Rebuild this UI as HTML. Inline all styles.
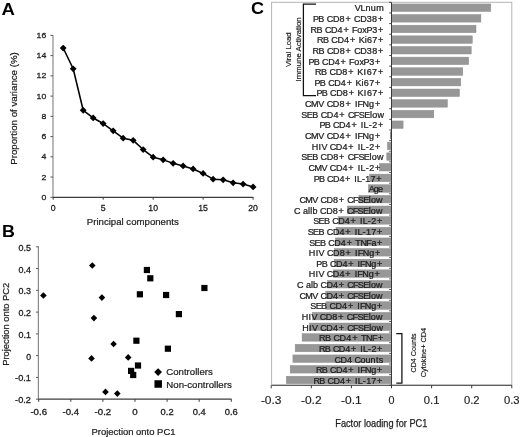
<!DOCTYPE html>
<html><head><meta charset="utf-8"><title>Figure</title>
<style>
html,body{margin:0;padding:0;background:#fff;}
body{width:520px;height:437px;overflow:hidden;}
svg{display:block;font-family:"Liberation Sans", sans-serif;will-change:transform;}
</style></head>
<body>
<svg width="520" height="437" viewBox="0 0 520 437" shape-rendering="auto">
<rect x="0" y="0" width="520" height="437" fill="#fff"/>
<text x="1.60" y="14.60" font-size="17.4" textLength="13.40" lengthAdjust="spacingAndGlyphs" font-weight="bold" fill="#000">A</text>
<text x="2.00" y="236.70" font-size="17.4" textLength="12.90" lengthAdjust="spacingAndGlyphs" font-weight="bold" fill="#000">B</text>
<text x="250.90" y="14.00" font-size="17.4" textLength="13.00" lengthAdjust="spacingAndGlyphs" font-weight="bold" fill="#000">C</text>
<line x1="53.00" y1="34.88" x2="53.00" y2="197.30" stroke="#8a8a8a" stroke-width="1.2"/>
<line x1="50.40" y1="197.30" x2="53.00" y2="197.30" stroke="#5a5a5a" stroke-width="1"/>
<text x="46.30" y="199.80" font-size="8.0" text-anchor="end" textLength="4.83" lengthAdjust="spacingAndGlyphs" fill="#1e1e1e" stroke="#1e1e1e" stroke-width="0.28">0</text>
<line x1="50.40" y1="177.06" x2="53.00" y2="177.06" stroke="#5a5a5a" stroke-width="1"/>
<text x="46.30" y="179.56" font-size="8.0" text-anchor="end" textLength="4.83" lengthAdjust="spacingAndGlyphs" fill="#1e1e1e" stroke="#1e1e1e" stroke-width="0.28">2</text>
<line x1="50.40" y1="156.82" x2="53.00" y2="156.82" stroke="#5a5a5a" stroke-width="1"/>
<text x="46.30" y="159.32" font-size="8.0" text-anchor="end" textLength="4.83" lengthAdjust="spacingAndGlyphs" fill="#1e1e1e" stroke="#1e1e1e" stroke-width="0.28">4</text>
<line x1="50.40" y1="136.58" x2="53.00" y2="136.58" stroke="#5a5a5a" stroke-width="1"/>
<text x="46.30" y="139.08" font-size="8.0" text-anchor="end" textLength="4.83" lengthAdjust="spacingAndGlyphs" fill="#1e1e1e" stroke="#1e1e1e" stroke-width="0.28">6</text>
<line x1="50.40" y1="116.34" x2="53.00" y2="116.34" stroke="#5a5a5a" stroke-width="1"/>
<text x="46.30" y="118.84" font-size="8.0" text-anchor="end" textLength="4.83" lengthAdjust="spacingAndGlyphs" fill="#1e1e1e" stroke="#1e1e1e" stroke-width="0.28">8</text>
<line x1="50.40" y1="96.10" x2="53.00" y2="96.10" stroke="#5a5a5a" stroke-width="1"/>
<text x="46.30" y="98.60" font-size="8.0" text-anchor="end" textLength="9.67" lengthAdjust="spacingAndGlyphs" fill="#1e1e1e" stroke="#1e1e1e" stroke-width="0.28">10</text>
<line x1="50.40" y1="75.86" x2="53.00" y2="75.86" stroke="#5a5a5a" stroke-width="1"/>
<text x="46.30" y="78.36" font-size="8.0" text-anchor="end" textLength="9.67" lengthAdjust="spacingAndGlyphs" fill="#1e1e1e" stroke="#1e1e1e" stroke-width="0.28">12</text>
<line x1="50.40" y1="55.62" x2="53.00" y2="55.62" stroke="#5a5a5a" stroke-width="1"/>
<text x="46.30" y="58.12" font-size="8.0" text-anchor="end" textLength="9.67" lengthAdjust="spacingAndGlyphs" fill="#1e1e1e" stroke="#1e1e1e" stroke-width="0.28">14</text>
<line x1="50.40" y1="35.38" x2="53.00" y2="35.38" stroke="#5a5a5a" stroke-width="1"/>
<text x="46.30" y="37.88" font-size="8.0" text-anchor="end" textLength="9.67" lengthAdjust="spacingAndGlyphs" fill="#1e1e1e" stroke="#1e1e1e" stroke-width="0.28">16</text>
<line x1="53.00" y1="197.30" x2="253.40" y2="197.30" stroke="#3c3c3c" stroke-width="1.15"/>
<line x1="53.20" y1="197.30" x2="53.20" y2="199.70" stroke="#3c3c3c" stroke-width="1"/>
<text x="53.20" y="211.10" font-size="8.3" text-anchor="middle" textLength="4.83" lengthAdjust="spacingAndGlyphs" fill="#1e1e1e" stroke="#1e1e1e" stroke-width="0.28">0</text>
<line x1="103.17" y1="197.30" x2="103.17" y2="199.70" stroke="#3c3c3c" stroke-width="1"/>
<text x="103.17" y="211.10" font-size="8.3" text-anchor="middle" textLength="4.83" lengthAdjust="spacingAndGlyphs" fill="#1e1e1e" stroke="#1e1e1e" stroke-width="0.28">5</text>
<line x1="153.15" y1="197.30" x2="153.15" y2="199.70" stroke="#3c3c3c" stroke-width="1"/>
<text x="153.15" y="211.10" font-size="8.3" text-anchor="middle" textLength="9.67" lengthAdjust="spacingAndGlyphs" fill="#1e1e1e" stroke="#1e1e1e" stroke-width="0.28">10</text>
<line x1="203.12" y1="197.30" x2="203.12" y2="199.70" stroke="#3c3c3c" stroke-width="1"/>
<text x="203.12" y="211.10" font-size="8.3" text-anchor="middle" textLength="9.67" lengthAdjust="spacingAndGlyphs" fill="#1e1e1e" stroke="#1e1e1e" stroke-width="0.28">15</text>
<line x1="253.10" y1="197.30" x2="253.10" y2="199.70" stroke="#3c3c3c" stroke-width="1"/>
<text x="253.10" y="211.10" font-size="8.3" text-anchor="middle" textLength="9.67" lengthAdjust="spacingAndGlyphs" fill="#1e1e1e" stroke="#1e1e1e" stroke-width="0.28">20</text>
<polyline points="63.20,48.03 73.19,68.78 83.19,110.27 93.18,117.96 103.17,123.53 113.17,130.81 123.16,138.20 133.16,140.32 143.16,149.53 153.15,157.22 163.14,159.86 173.14,163.30 183.13,165.93 193.13,168.96 203.12,173.42 213.12,179.19 223.12,179.79 233.11,182.83 243.10,184.04 253.10,186.88" fill="none" stroke="#000" stroke-width="1.55" stroke-linejoin="round"/>
<path d="M59.80 48.03L63.20 44.63L66.59 48.03L63.20 51.43Z" fill="#000"/>
<path d="M69.79 68.78L73.19 65.38L76.59 68.78L73.19 72.18Z" fill="#000"/>
<path d="M79.78 110.27L83.19 106.87L86.59 110.27L83.19 113.67Z" fill="#000"/>
<path d="M89.78 117.96L93.18 114.56L96.58 117.96L93.18 121.36Z" fill="#000"/>
<path d="M99.77 123.53L103.17 120.13L106.58 123.53L103.17 126.93Z" fill="#000"/>
<path d="M109.77 130.81L113.17 127.41L116.57 130.81L113.17 134.21Z" fill="#000"/>
<path d="M119.76 138.20L123.16 134.80L126.56 138.20L123.16 141.60Z" fill="#000"/>
<path d="M129.76 140.32L133.16 136.92L136.56 140.32L133.16 143.72Z" fill="#000"/>
<path d="M139.75 149.53L143.16 146.13L146.56 149.53L143.16 152.93Z" fill="#000"/>
<path d="M149.75 157.22L153.15 153.82L156.55 157.22L153.15 160.62Z" fill="#000"/>
<path d="M159.74 159.86L163.14 156.46L166.54 159.86L163.14 163.26Z" fill="#000"/>
<path d="M169.74 163.30L173.14 159.90L176.54 163.30L173.14 166.70Z" fill="#000"/>
<path d="M179.73 165.93L183.13 162.53L186.53 165.93L183.13 169.33Z" fill="#000"/>
<path d="M189.73 168.96L193.13 165.56L196.53 168.96L193.13 172.36Z" fill="#000"/>
<path d="M199.72 173.42L203.12 170.02L206.53 173.42L203.12 176.82Z" fill="#000"/>
<path d="M209.72 179.19L213.12 175.79L216.52 179.19L213.12 182.59Z" fill="#000"/>
<path d="M219.72 179.79L223.12 176.39L226.52 179.79L223.12 183.19Z" fill="#000"/>
<path d="M229.71 182.83L233.11 179.43L236.51 182.83L233.11 186.23Z" fill="#000"/>
<path d="M239.70 184.04L243.10 180.64L246.50 184.04L243.10 187.44Z" fill="#000"/>
<path d="M249.70 186.88L253.10 183.48L256.50 186.88L253.10 190.28Z" fill="#000"/>
<text x="132.80" y="225.20" font-size="9.5" text-anchor="middle" textLength="92.00" lengthAdjust="spacingAndGlyphs" fill="#1e1e1e" stroke="#1e1e1e" stroke-width="0.22">Principal components</text>
<text x="16.80" y="108.50" font-size="9.5" text-anchor="middle" textLength="112.50" lengthAdjust="spacingAndGlyphs" transform="rotate(-90 16.80 108.50)" fill="#1e1e1e" stroke="#1e1e1e" stroke-width="0.22">Proportion of variance (%)</text>
<line x1="38.40" y1="246.30" x2="38.40" y2="399.19" stroke="#8a8a8a" stroke-width="1.2"/>
<line x1="36.00" y1="399.19" x2="38.40" y2="399.19" stroke="#5a5a5a" stroke-width="1"/>
<text x="31.00" y="403.19" font-size="8.3" text-anchor="end" textLength="15.88" lengthAdjust="spacingAndGlyphs" fill="#1e1e1e" stroke="#1e1e1e" stroke-width="0.28">-0.2</text>
<line x1="36.00" y1="377.42" x2="38.40" y2="377.42" stroke="#5a5a5a" stroke-width="1"/>
<text x="31.00" y="381.42" font-size="8.3" text-anchor="end" textLength="15.88" lengthAdjust="spacingAndGlyphs" fill="#1e1e1e" stroke="#1e1e1e" stroke-width="0.28">-0.1</text>
<line x1="36.00" y1="355.65" x2="38.40" y2="355.65" stroke="#5a5a5a" stroke-width="1"/>
<text x="31.00" y="359.65" font-size="8.3" text-anchor="end" textLength="4.83" lengthAdjust="spacingAndGlyphs" fill="#1e1e1e" stroke="#1e1e1e" stroke-width="0.28">0</text>
<line x1="36.00" y1="333.88" x2="38.40" y2="333.88" stroke="#5a5a5a" stroke-width="1"/>
<text x="31.00" y="337.88" font-size="8.3" text-anchor="end" textLength="12.43" lengthAdjust="spacingAndGlyphs" fill="#1e1e1e" stroke="#1e1e1e" stroke-width="0.28">0.1</text>
<line x1="36.00" y1="312.11" x2="38.40" y2="312.11" stroke="#5a5a5a" stroke-width="1"/>
<text x="31.00" y="316.11" font-size="8.3" text-anchor="end" textLength="12.43" lengthAdjust="spacingAndGlyphs" fill="#1e1e1e" stroke="#1e1e1e" stroke-width="0.28">0.2</text>
<line x1="36.00" y1="290.34" x2="38.40" y2="290.34" stroke="#5a5a5a" stroke-width="1"/>
<text x="31.00" y="294.34" font-size="8.3" text-anchor="end" textLength="12.43" lengthAdjust="spacingAndGlyphs" fill="#1e1e1e" stroke="#1e1e1e" stroke-width="0.28">0.3</text>
<line x1="36.00" y1="268.57" x2="38.40" y2="268.57" stroke="#5a5a5a" stroke-width="1"/>
<text x="31.00" y="272.57" font-size="8.3" text-anchor="end" textLength="12.43" lengthAdjust="spacingAndGlyphs" fill="#1e1e1e" stroke="#1e1e1e" stroke-width="0.28">0.4</text>
<line x1="36.00" y1="246.80" x2="38.40" y2="246.80" stroke="#5a5a5a" stroke-width="1"/>
<text x="31.00" y="250.80" font-size="8.3" text-anchor="end" textLength="12.43" lengthAdjust="spacingAndGlyphs" fill="#1e1e1e" stroke="#1e1e1e" stroke-width="0.28">0.5</text>
<line x1="38.40" y1="399.19" x2="231.60" y2="399.19" stroke="#3c3c3c" stroke-width="1.2"/>
<line x1="38.70" y1="399.19" x2="38.70" y2="401.79" stroke="#3c3c3c" stroke-width="1"/>
<text x="38.70" y="415.40" font-size="8.3" text-anchor="middle" textLength="16.60" lengthAdjust="spacingAndGlyphs" fill="#1e1e1e" stroke="#1e1e1e" stroke-width="0.28">-0.6</text>
<line x1="70.80" y1="399.19" x2="70.80" y2="401.79" stroke="#3c3c3c" stroke-width="1"/>
<text x="70.80" y="415.40" font-size="8.3" text-anchor="middle" textLength="16.60" lengthAdjust="spacingAndGlyphs" fill="#1e1e1e" stroke="#1e1e1e" stroke-width="0.28">-0.4</text>
<line x1="102.90" y1="399.19" x2="102.90" y2="401.79" stroke="#3c3c3c" stroke-width="1"/>
<text x="102.90" y="415.40" font-size="8.3" text-anchor="middle" textLength="16.60" lengthAdjust="spacingAndGlyphs" fill="#1e1e1e" stroke="#1e1e1e" stroke-width="0.28">-0.2</text>
<line x1="135.00" y1="399.19" x2="135.00" y2="401.79" stroke="#3c3c3c" stroke-width="1"/>
<text x="135.00" y="415.40" font-size="8.3" text-anchor="middle" textLength="5.40" lengthAdjust="spacingAndGlyphs" fill="#1e1e1e" stroke="#1e1e1e" stroke-width="0.28">0</text>
<line x1="167.10" y1="399.19" x2="167.10" y2="401.79" stroke="#3c3c3c" stroke-width="1"/>
<text x="167.10" y="415.40" font-size="8.3" text-anchor="middle" textLength="13.00" lengthAdjust="spacingAndGlyphs" fill="#1e1e1e" stroke="#1e1e1e" stroke-width="0.28">0.2</text>
<line x1="199.20" y1="399.19" x2="199.20" y2="401.79" stroke="#3c3c3c" stroke-width="1"/>
<text x="199.20" y="415.40" font-size="8.3" text-anchor="middle" textLength="13.00" lengthAdjust="spacingAndGlyphs" fill="#1e1e1e" stroke="#1e1e1e" stroke-width="0.28">0.4</text>
<line x1="231.30" y1="399.19" x2="231.30" y2="401.79" stroke="#3c3c3c" stroke-width="1"/>
<text x="231.30" y="415.40" font-size="8.3" text-anchor="middle" textLength="13.00" lengthAdjust="spacingAndGlyphs" fill="#1e1e1e" stroke="#1e1e1e" stroke-width="0.28">0.6</text>
<path d="M40.10 295.50L43.40 292.20L46.70 295.50L43.40 298.80Z" fill="#000"/>
<path d="M89.00 265.50L92.30 262.20L95.60 265.50L92.30 268.80Z" fill="#000"/>
<path d="M98.60 297.60L101.90 294.30L105.20 297.60L101.90 300.90Z" fill="#000"/>
<path d="M90.60 318.10L93.90 314.80L97.20 318.10L93.90 321.40Z" fill="#000"/>
<path d="M110.30 344.00L113.60 340.70L116.90 344.00L113.60 347.30Z" fill="#000"/>
<path d="M88.20 358.40L91.50 355.10L94.80 358.40L91.50 361.70Z" fill="#000"/>
<path d="M124.90 357.40L128.20 354.10L131.50 357.40L128.20 360.70Z" fill="#000"/>
<path d="M102.20 391.90L105.50 388.60L108.80 391.90L105.50 395.20Z" fill="#000"/>
<path d="M114.00 393.60L117.30 390.30L120.60 393.60L117.30 396.90Z" fill="#000"/>
<rect x="143.80" y="266.90" width="6.20" height="6.20" fill="#000"/>
<rect x="147.20" y="275.20" width="6.20" height="6.20" fill="#000"/>
<rect x="136.80" y="291.20" width="6.20" height="6.20" fill="#000"/>
<rect x="163.00" y="291.90" width="6.20" height="6.20" fill="#000"/>
<rect x="201.30" y="284.90" width="6.20" height="6.20" fill="#000"/>
<rect x="175.80" y="311.00" width="6.20" height="6.20" fill="#000"/>
<rect x="133.30" y="337.60" width="6.20" height="6.20" fill="#000"/>
<rect x="164.80" y="345.60" width="6.20" height="6.20" fill="#000"/>
<rect x="134.90" y="362.40" width="6.20" height="6.20" fill="#000"/>
<rect x="128.00" y="367.80" width="6.20" height="6.20" fill="#000"/>
<rect x="130.10" y="371.90" width="6.20" height="6.20" fill="#000"/>
<path d="M154.20 372.10L158.10 368.20L162.00 372.10L158.10 376.00Z" fill="#000"/>
<rect x="154.45" y="380.25" width="7.50" height="7.50" fill="#000"/>
<text x="166.30" y="375.30" font-size="9.4" textLength="46.50" lengthAdjust="spacingAndGlyphs" fill="#1e1e1e" stroke="#1e1e1e" stroke-width="0.22">Controllers</text>
<text x="166.30" y="387.70" font-size="9.4" textLength="65.50" lengthAdjust="spacingAndGlyphs" fill="#1e1e1e" stroke="#1e1e1e" stroke-width="0.22">Non-controllers</text>
<text x="133.50" y="434.80" font-size="9.2" text-anchor="middle" textLength="84.00" lengthAdjust="spacingAndGlyphs" fill="#1e1e1e" stroke="#1e1e1e" stroke-width="0.22">Projection onto PC1</text>
<text x="8.60" y="324.30" font-size="9.2" text-anchor="middle" textLength="83.00" lengthAdjust="spacingAndGlyphs" transform="rotate(-90 8.60 324.30)" fill="#1e1e1e" stroke="#1e1e1e" stroke-width="0.22">Projection onto PC2</text>
<rect x="271.60" y="2.30" width="240.20" height="383.00" fill="none" stroke="#b4b4b4" stroke-width="1.0"/>
<rect x="391.50" y="3.95" width="99.30" height="7.50" fill="#979797" stroke="#8e8e8e" stroke-width="0.5"/>
<rect x="391.50" y="14.59" width="89.40" height="7.50" fill="#979797" stroke="#8e8e8e" stroke-width="0.5"/>
<rect x="391.50" y="25.22" width="84.50" height="7.50" fill="#979797" stroke="#8e8e8e" stroke-width="0.5"/>
<rect x="391.50" y="35.86" width="80.80" height="7.50" fill="#979797" stroke="#8e8e8e" stroke-width="0.5"/>
<rect x="391.50" y="46.49" width="79.70" height="7.50" fill="#979797" stroke="#8e8e8e" stroke-width="0.5"/>
<rect x="391.50" y="57.13" width="77.20" height="7.50" fill="#979797" stroke="#8e8e8e" stroke-width="0.5"/>
<rect x="391.50" y="67.77" width="71.30" height="7.50" fill="#979797" stroke="#8e8e8e" stroke-width="0.5"/>
<rect x="391.50" y="78.40" width="69.30" height="7.50" fill="#979797" stroke="#8e8e8e" stroke-width="0.5"/>
<rect x="391.50" y="89.04" width="68.00" height="7.50" fill="#979797" stroke="#8e8e8e" stroke-width="0.5"/>
<rect x="391.50" y="99.67" width="55.90" height="7.50" fill="#979797" stroke="#8e8e8e" stroke-width="0.5"/>
<rect x="391.50" y="110.31" width="42.30" height="7.50" fill="#979797" stroke="#8e8e8e" stroke-width="0.5"/>
<rect x="391.50" y="120.95" width="11.60" height="7.50" fill="#979797" stroke="#8e8e8e" stroke-width="0.5"/>
<rect x="391.00" y="131.58" width="0.50" height="7.50" fill="#979797" stroke="#8e8e8e" stroke-width="0.5"/>
<rect x="387.40" y="142.22" width="4.10" height="7.50" fill="#979797" stroke="#8e8e8e" stroke-width="0.5"/>
<rect x="386.80" y="152.85" width="4.70" height="7.50" fill="#979797" stroke="#8e8e8e" stroke-width="0.5"/>
<rect x="379.50" y="163.49" width="12.00" height="7.50" fill="#979797" stroke="#8e8e8e" stroke-width="0.5"/>
<rect x="369.50" y="174.13" width="22.00" height="7.50" fill="#979797" stroke="#8e8e8e" stroke-width="0.5"/>
<rect x="368.30" y="184.76" width="23.20" height="7.50" fill="#979797" stroke="#8e8e8e" stroke-width="0.5"/>
<rect x="358.90" y="195.40" width="32.60" height="7.50" fill="#979797" stroke="#8e8e8e" stroke-width="0.5"/>
<rect x="347.20" y="206.03" width="44.30" height="7.50" fill="#979797" stroke="#8e8e8e" stroke-width="0.5"/>
<rect x="338.40" y="216.67" width="53.10" height="7.50" fill="#979797" stroke="#8e8e8e" stroke-width="0.5"/>
<rect x="336.00" y="227.31" width="55.50" height="7.50" fill="#979797" stroke="#8e8e8e" stroke-width="0.5"/>
<rect x="335.40" y="237.94" width="56.10" height="7.50" fill="#979797" stroke="#8e8e8e" stroke-width="0.5"/>
<rect x="334.50" y="248.58" width="57.00" height="7.50" fill="#979797" stroke="#8e8e8e" stroke-width="0.5"/>
<rect x="334.20" y="259.21" width="57.30" height="7.50" fill="#979797" stroke="#8e8e8e" stroke-width="0.5"/>
<rect x="333.40" y="269.85" width="58.10" height="7.50" fill="#979797" stroke="#8e8e8e" stroke-width="0.5"/>
<rect x="327.60" y="280.49" width="63.90" height="7.50" fill="#979797" stroke="#8e8e8e" stroke-width="0.5"/>
<rect x="325.80" y="291.12" width="65.70" height="7.50" fill="#979797" stroke="#8e8e8e" stroke-width="0.5"/>
<rect x="325.90" y="301.76" width="65.60" height="7.50" fill="#979797" stroke="#8e8e8e" stroke-width="0.5"/>
<rect x="312.40" y="312.39" width="79.10" height="7.50" fill="#979797" stroke="#8e8e8e" stroke-width="0.5"/>
<rect x="309.60" y="323.03" width="81.90" height="7.50" fill="#979797" stroke="#8e8e8e" stroke-width="0.5"/>
<rect x="302.10" y="333.67" width="89.40" height="7.50" fill="#979797" stroke="#8e8e8e" stroke-width="0.5"/>
<rect x="295.20" y="344.30" width="96.30" height="7.50" fill="#979797" stroke="#8e8e8e" stroke-width="0.5"/>
<rect x="292.90" y="354.94" width="98.60" height="7.50" fill="#979797" stroke="#8e8e8e" stroke-width="0.5"/>
<rect x="290.20" y="365.57" width="101.30" height="7.50" fill="#979797" stroke="#8e8e8e" stroke-width="0.5"/>
<rect x="286.30" y="376.21" width="105.20" height="7.50" fill="#979797" stroke="#8e8e8e" stroke-width="0.5"/>
<rect x="390.3" y="131.58" width="1.2" height="7.50" fill="#666"/>
<line x1="391.50" y1="2.30" x2="391.50" y2="385.30" stroke="#3a3a3a" stroke-width="1.0"/>
<line x1="389.20" y1="2.30" x2="391.50" y2="2.30" stroke="#3a3a3a" stroke-width="0.9"/>
<line x1="389.20" y1="12.94" x2="391.50" y2="12.94" stroke="#3a3a3a" stroke-width="0.9"/>
<line x1="389.20" y1="23.58" x2="391.50" y2="23.58" stroke="#3a3a3a" stroke-width="0.9"/>
<line x1="389.20" y1="34.22" x2="391.50" y2="34.22" stroke="#3a3a3a" stroke-width="0.9"/>
<line x1="389.20" y1="44.86" x2="391.50" y2="44.86" stroke="#3a3a3a" stroke-width="0.9"/>
<line x1="389.20" y1="55.49" x2="391.50" y2="55.49" stroke="#3a3a3a" stroke-width="0.9"/>
<line x1="389.20" y1="66.13" x2="391.50" y2="66.13" stroke="#3a3a3a" stroke-width="0.9"/>
<line x1="389.20" y1="76.77" x2="391.50" y2="76.77" stroke="#3a3a3a" stroke-width="0.9"/>
<line x1="389.20" y1="87.41" x2="391.50" y2="87.41" stroke="#3a3a3a" stroke-width="0.9"/>
<line x1="389.20" y1="98.05" x2="391.50" y2="98.05" stroke="#3a3a3a" stroke-width="0.9"/>
<line x1="389.20" y1="108.69" x2="391.50" y2="108.69" stroke="#3a3a3a" stroke-width="0.9"/>
<line x1="389.20" y1="119.33" x2="391.50" y2="119.33" stroke="#3a3a3a" stroke-width="0.9"/>
<line x1="389.20" y1="129.97" x2="391.50" y2="129.97" stroke="#3a3a3a" stroke-width="0.9"/>
<line x1="389.20" y1="140.61" x2="391.50" y2="140.61" stroke="#3a3a3a" stroke-width="0.9"/>
<line x1="389.20" y1="151.24" x2="391.50" y2="151.24" stroke="#3a3a3a" stroke-width="0.9"/>
<line x1="389.20" y1="161.88" x2="391.50" y2="161.88" stroke="#3a3a3a" stroke-width="0.9"/>
<line x1="389.20" y1="172.52" x2="391.50" y2="172.52" stroke="#3a3a3a" stroke-width="0.9"/>
<line x1="389.20" y1="183.16" x2="391.50" y2="183.16" stroke="#3a3a3a" stroke-width="0.9"/>
<line x1="389.20" y1="193.80" x2="391.50" y2="193.80" stroke="#3a3a3a" stroke-width="0.9"/>
<line x1="389.20" y1="204.44" x2="391.50" y2="204.44" stroke="#3a3a3a" stroke-width="0.9"/>
<line x1="389.20" y1="215.08" x2="391.50" y2="215.08" stroke="#3a3a3a" stroke-width="0.9"/>
<line x1="389.20" y1="225.72" x2="391.50" y2="225.72" stroke="#3a3a3a" stroke-width="0.9"/>
<line x1="389.20" y1="236.36" x2="391.50" y2="236.36" stroke="#3a3a3a" stroke-width="0.9"/>
<line x1="389.20" y1="246.99" x2="391.50" y2="246.99" stroke="#3a3a3a" stroke-width="0.9"/>
<line x1="389.20" y1="257.63" x2="391.50" y2="257.63" stroke="#3a3a3a" stroke-width="0.9"/>
<line x1="389.20" y1="268.27" x2="391.50" y2="268.27" stroke="#3a3a3a" stroke-width="0.9"/>
<line x1="389.20" y1="278.91" x2="391.50" y2="278.91" stroke="#3a3a3a" stroke-width="0.9"/>
<line x1="389.20" y1="289.55" x2="391.50" y2="289.55" stroke="#3a3a3a" stroke-width="0.9"/>
<line x1="389.20" y1="300.19" x2="391.50" y2="300.19" stroke="#3a3a3a" stroke-width="0.9"/>
<line x1="389.20" y1="310.83" x2="391.50" y2="310.83" stroke="#3a3a3a" stroke-width="0.9"/>
<line x1="389.20" y1="321.47" x2="391.50" y2="321.47" stroke="#3a3a3a" stroke-width="0.9"/>
<line x1="389.20" y1="332.11" x2="391.50" y2="332.11" stroke="#3a3a3a" stroke-width="0.9"/>
<line x1="389.20" y1="342.74" x2="391.50" y2="342.74" stroke="#3a3a3a" stroke-width="0.9"/>
<line x1="389.20" y1="353.38" x2="391.50" y2="353.38" stroke="#3a3a3a" stroke-width="0.9"/>
<line x1="389.20" y1="364.02" x2="391.50" y2="364.02" stroke="#3a3a3a" stroke-width="0.9"/>
<line x1="389.20" y1="374.66" x2="391.50" y2="374.66" stroke="#3a3a3a" stroke-width="0.9"/>
<line x1="389.20" y1="385.30" x2="391.50" y2="385.30" stroke="#3a3a3a" stroke-width="0.9"/>
<text x="322.52 327.70 332.24 337.06 342.05" y="11.35" font-size="8.2" transform="scale(1.1 1)" fill="#1e1e1e" stroke="#1e1e1e" stroke-width="0.24">VLnum</text>
<text x="284.47 289.36 294.89 297.05 302.62 308.63 314.03 319.71 321.87 327.44 333.46 338.28 343.67" y="21.99" font-size="8.2" transform="scale(1.1 1)" fill="#1e1e1e" stroke="#1e1e1e" stroke-width="0.24">PB CD8+ CD38+</text>
<text x="282.31 287.73 293.23 295.36 300.89 306.86 312.22 317.87 320.00 324.67 329.41 333.22 338.34 343.69" y="32.64" font-size="8.2" transform="scale(1.1 1)" fill="#1e1e1e" stroke="#1e1e1e" stroke-width="0.24">RB CD4+ FoxP3+</text>
<text x="288.22 293.63 299.12 301.25 306.77 312.73 318.08 323.73 326.06 331.52 333.57 338.35 343.69" y="43.28" font-size="8.2" transform="scale(1.1 1)" fill="#1e1e1e" stroke="#1e1e1e" stroke-width="0.24">RB CD4+ Ki67+</text>
<text x="284.14 289.58 295.09 297.23 302.78 308.77 314.15 319.82 321.96 327.51 333.50 338.31 343.68" y="53.93" font-size="8.2" transform="scale(1.1 1)" fill="#1e1e1e" stroke="#1e1e1e" stroke-width="0.24">RB CD8+ CD38+</text>
<text x="280.36 285.20 290.69 292.80 298.31 304.27 309.60 315.25 317.36 322.01 326.74 330.53 335.64 340.97" y="64.57" font-size="8.2" transform="scale(1.1 1)" fill="#1e1e1e" stroke="#1e1e1e" stroke-width="0.24">PB CD4+ FoxP3+</text>
<text x="286.42 291.90 297.44 299.61 305.19 311.22 316.63 322.33 324.71 330.54 333.42 338.25 343.66" y="75.22" font-size="8.2" transform="scale(1.1 1)" fill="#1e1e1e" stroke="#1e1e1e" stroke-width="0.24">RB CD8+ KI67+</text>
<text x="285.83 290.69 296.20 298.34 303.88 309.87 315.24 320.91 323.25 328.73 330.79 335.59 340.96" y="85.86" font-size="8.2" transform="scale(1.1 1)" fill="#1e1e1e" stroke="#1e1e1e" stroke-width="0.24">PB CD4+ Ki67+</text>
<text x="287.64 292.49 297.99 300.11 305.63 311.60 316.96 322.61 324.94 330.73 333.56 338.34 343.69" y="96.51" font-size="8.2" transform="scale(1.1 1)" fill="#1e1e1e" stroke="#1e1e1e" stroke-width="0.24">PB CD8+ KI67+</text>
<text x="277.35 282.76 289.25 294.79 296.96 302.55 308.59 314.01 319.72 322.66 325.08 329.67 335.56 340.93" y="107.15" font-size="8.2" transform="scale(1.1 1)" fill="#1e1e1e" stroke="#1e1e1e" stroke-width="0.24">CMV CD8+ IFNg+</text>
<text x="273.87 278.86 283.85 289.38 291.54 297.10 303.12 308.51 314.20 316.36 321.64 326.18 331.16 336.42 338.39 343.11" y="117.80" font-size="8.2" transform="scale(1.1 1)" fill="#1e1e1e" stroke="#1e1e1e" stroke-width="0.24">SEB CD4+ CFSElow</text>
<text x="290.36 295.18 300.65 302.76 308.25 314.18 319.50 325.13 328.02 330.54 335.23 338.39 343.71" y="128.44" font-size="8.2" transform="scale(1.1 1)" fill="#1e1e1e" stroke="#1e1e1e" stroke-width="0.24">PB CD4+ IL-2+</text>
<text x="277.35 282.76 289.25 294.79 296.96 302.55 308.59 314.01 319.72 322.66 325.08 329.67 335.56 340.93" y="139.09" font-size="8.2" transform="scale(1.1 1)" fill="#1e1e1e" stroke="#1e1e1e" stroke-width="0.24">CMV CD4+ IFNg+</text>
<text x="283.43 289.65 292.20 297.69 299.81 305.33 311.30 316.64 322.29 325.20 327.73 332.44 335.62 340.97" y="149.73" font-size="8.2" transform="scale(1.1 1)" fill="#1e1e1e" stroke="#1e1e1e" stroke-width="0.24">HIV CD4+ IL-2+</text>
<text x="273.86 278.82 283.78 289.28 291.42 296.95 302.93 308.29 313.95 316.08 321.33 325.84 330.80 336.03 337.98 342.67" y="160.38" font-size="8.2" transform="scale(1.1 1)" fill="#1e1e1e" stroke="#1e1e1e" stroke-width="0.24">SEB CD8+ CFSElow</text>
<text x="280.50 285.83 292.24 297.72 299.84 305.36 311.32 316.66 322.31 325.21 327.74 332.45 335.63 340.97" y="171.02" font-size="8.2" transform="scale(1.1 1)" fill="#1e1e1e" stroke="#1e1e1e" stroke-width="0.24">CMV CD4+ IL-2+</text>
<text x="285.32 290.01 295.39 297.39 302.74 308.55 313.73 319.25 322.06 324.49 329.08 332.14 336.77 341.95" y="181.67" font-size="8.2" transform="scale(1.1 1)" fill="#1e1e1e" stroke="#1e1e1e" stroke-width="0.24">PB CD4+ IL-17+</text>
<text x="335.31 339.81 343.58" y="192.31" font-size="8.2" transform="scale(1.1 1)" fill="#1e1e1e" stroke="#1e1e1e" stroke-width="0.24">Age</text>
<text x="272.29 277.54 283.88 289.31 291.38 296.82 302.72 307.99 313.58 315.65 320.82 325.25 330.13 335.31 337.20 341.80" y="202.96" font-size="8.2" transform="scale(1.1 1)" fill="#1e1e1e" stroke="#1e1e1e" stroke-width="0.24">CMV CD8+ CFSElow</text>
<text x="267.30 273.04 275.46 280.09 282.14 284.12 288.90 290.99 296.48 302.41 307.72 313.34 315.44 320.64 325.11 330.02 335.23 337.15 341.78" y="213.60" font-size="8.2" transform="scale(1.1 1)" fill="#1e1e1e" stroke="#1e1e1e" stroke-width="0.24">C allb CD8+ CFSElow</text>
<text x="284.74 289.63 294.53 299.99 302.07 307.53 313.45 318.74 324.34 327.21 329.71 334.38 337.52 342.81" y="224.25" font-size="8.2" transform="scale(1.1 1)" fill="#1e1e1e" stroke="#1e1e1e" stroke-width="0.24">SEB CD4+ IL-2+</text>
<text x="279.75 284.66 289.58 295.05 297.15 302.63 308.57 313.88 319.50 322.39 324.90 329.59 332.74 337.49 342.80" y="234.89" font-size="8.2" transform="scale(1.1 1)" fill="#1e1e1e" stroke="#1e1e1e" stroke-width="0.24">SEB CD4+ IL-17+</text>
<text x="281.11 286.01 290.92 296.38 298.47 303.95 309.87 315.17 320.78 323.02 327.65 333.03 337.64 342.81" y="245.54" font-size="8.2" transform="scale(1.1 1)" fill="#1e1e1e" stroke="#1e1e1e" stroke-width="0.24">SEB CD4+ TNFa+</text>
<text x="280.72 286.97 289.56 295.07 297.23 302.79 308.79 314.18 319.86 322.79 325.19 329.74 335.61 340.95" y="256.19" font-size="8.2" transform="scale(1.1 1)" fill="#1e1e1e" stroke="#1e1e1e" stroke-width="0.24">HIV CD8+ IFNg+</text>
<text x="287.62 292.40 297.85 299.93 305.38 311.28 316.56 322.16 325.03 327.36 331.81 337.58 342.82" y="266.83" font-size="8.2" transform="scale(1.1 1)" fill="#1e1e1e" stroke="#1e1e1e" stroke-width="0.24">PB CD4+ IFNg+</text>
<text x="280.70 286.92 289.48 294.97 297.09 302.61 308.58 313.93 319.58 322.49 324.86 329.38 335.21 340.51" y="277.48" font-size="8.2" transform="scale(1.1 1)" fill="#1e1e1e" stroke="#1e1e1e" stroke-width="0.24">HIV CD4+ IFNg+</text>
<text x="270.01 275.72 278.10 282.71 284.66 289.40 291.47 296.90 302.78 308.05 313.63 315.69 320.86 325.28 330.15 335.33 337.21 341.80" y="288.12" font-size="8.2" transform="scale(1.1 1)" fill="#1e1e1e" stroke="#1e1e1e" stroke-width="0.24">C alb CD4+ CFSElow</text>
<text x="272.29 277.54 283.88 289.31 291.38 296.82 302.72 307.99 313.58 315.65 320.82 325.25 330.13 335.31 337.20 341.80" y="298.76" font-size="8.2" transform="scale(1.1 1)" fill="#1e1e1e" stroke="#1e1e1e" stroke-width="0.24">CMV CD4+ CFSElow</text>
<text x="282.03 286.96 291.90 297.38 299.50 305.00 310.95 316.29 321.93 324.82 327.19 331.69 337.51 342.79" y="309.41" font-size="8.2" transform="scale(1.1 1)" fill="#1e1e1e" stroke="#1e1e1e" stroke-width="0.24">SEB CD4+ IFNg+</text>
<text x="274.33 280.55 283.10 288.58 290.70 296.21 302.17 307.52 313.16 315.28 320.51 325.00 329.94 335.17 337.10 341.77" y="320.06" font-size="8.2" transform="scale(1.1 1)" fill="#1e1e1e" stroke="#1e1e1e" stroke-width="0.24">HIV CD8+ CFSElow</text>
<text x="274.79 281.00 283.56 289.04 291.16 296.67 302.63 307.97 313.61 315.73 320.96 325.46 330.40 335.62 337.56 342.22" y="330.70" font-size="8.2" transform="scale(1.1 1)" fill="#1e1e1e" stroke="#1e1e1e" stroke-width="0.24">HIV CD4+ CFSElow</text>
<text x="290.05 295.50 301.03 303.18 308.74 314.75 320.14 325.82 328.12 332.83 338.29 343.68" y="341.35" font-size="8.2" transform="scale(1.1 1)" fill="#1e1e1e" stroke="#1e1e1e" stroke-width="0.24">RB CD4+ TNF+</text>
<text x="289.98 295.27 300.67 302.69 308.07 313.91 319.12 324.66 327.50 329.94 334.56 337.64 342.85" y="351.99" font-size="8.2" transform="scale(1.1 1)" fill="#1e1e1e" stroke="#1e1e1e" stroke-width="0.24">RB CD4+ IL-2+</text>
<text x="304.09 309.50 315.36 320.14 322.18 327.67 332.23 336.90 341.82 344.27" y="362.63" font-size="8.2" transform="scale(1.1 1)" fill="#1e1e1e" stroke="#1e1e1e" stroke-width="0.24">CD4 Counts</text>
<text x="287.27 292.60 298.04 300.10 305.53 311.41 316.67 322.25 325.11 327.43 331.86 337.61 342.83" y="373.28" font-size="8.2" transform="scale(1.1 1)" fill="#1e1e1e" stroke="#1e1e1e" stroke-width="0.24">RB CD4+ IFNg+</text>
<text x="284.99 290.31 295.73 297.77 303.19 309.05 314.29 319.86 322.70 325.17 329.81 332.91 337.59 342.84" y="383.93" font-size="8.2" transform="scale(1.1 1)" fill="#1e1e1e" stroke="#1e1e1e" stroke-width="0.24">RB CD4+ IL-17+</text>
<line x1="271.60" y1="385.30" x2="511.80" y2="385.30" stroke="#3a3a3a" stroke-width="1.1"/>
<line x1="271.20" y1="385.30" x2="271.20" y2="388.30" stroke="#3a3a3a" stroke-width="1"/>
<text x="271.20" y="403.90" font-size="10.2" text-anchor="middle" textLength="20.60" lengthAdjust="spacingAndGlyphs" fill="#1e1e1e" stroke="#1e1e1e" stroke-width="0.15">-0.3</text>
<line x1="311.30" y1="385.30" x2="311.30" y2="388.30" stroke="#3a3a3a" stroke-width="1"/>
<text x="311.30" y="403.90" font-size="10.2" text-anchor="middle" textLength="20.60" lengthAdjust="spacingAndGlyphs" fill="#1e1e1e" stroke="#1e1e1e" stroke-width="0.15">-0.2</text>
<line x1="351.40" y1="385.30" x2="351.40" y2="388.30" stroke="#3a3a3a" stroke-width="1"/>
<text x="351.40" y="403.90" font-size="10.2" text-anchor="middle" textLength="20.60" lengthAdjust="spacingAndGlyphs" fill="#1e1e1e" stroke="#1e1e1e" stroke-width="0.15">-0.1</text>
<line x1="391.50" y1="385.30" x2="391.50" y2="388.30" stroke="#3a3a3a" stroke-width="1"/>
<text x="391.50" y="403.90" font-size="10.2" text-anchor="middle" textLength="6.00" lengthAdjust="spacingAndGlyphs" fill="#1e1e1e" stroke="#1e1e1e" stroke-width="0.15">0</text>
<line x1="431.60" y1="385.30" x2="431.60" y2="388.30" stroke="#3a3a3a" stroke-width="1"/>
<text x="431.60" y="403.90" font-size="10.2" text-anchor="middle" textLength="15.60" lengthAdjust="spacingAndGlyphs" fill="#1e1e1e" stroke="#1e1e1e" stroke-width="0.15">0.1</text>
<line x1="471.70" y1="385.30" x2="471.70" y2="388.30" stroke="#3a3a3a" stroke-width="1"/>
<text x="471.70" y="403.90" font-size="10.2" text-anchor="middle" textLength="15.60" lengthAdjust="spacingAndGlyphs" fill="#1e1e1e" stroke="#1e1e1e" stroke-width="0.15">0.2</text>
<line x1="511.80" y1="385.30" x2="511.80" y2="388.30" stroke="#3a3a3a" stroke-width="1"/>
<text x="511.80" y="403.90" font-size="10.2" text-anchor="middle" textLength="15.60" lengthAdjust="spacingAndGlyphs" fill="#1e1e1e" stroke="#1e1e1e" stroke-width="0.15">0.3</text>
<text x="381.30" y="427.40" font-size="10.2" text-anchor="middle" textLength="92.00" lengthAdjust="spacingAndGlyphs" fill="#1e1e1e" stroke="#1e1e1e" stroke-width="0.25">Factor loading for PC1</text>
<path d="M316.0 4.2 H303.4 V95.7 H316.0" fill="none" stroke="#111" stroke-width="1.25"/>
<text x="290.60" y="49.70" font-size="7.9" text-anchor="middle" textLength="34.80" lengthAdjust="spacingAndGlyphs" transform="rotate(-90 290.60 49.70)" fill="#1e1e1e" stroke="#1e1e1e" stroke-width="0.2">Viral Load</text>
<text x="301.00" y="49.40" font-size="7.9" text-anchor="middle" textLength="64.20" lengthAdjust="spacingAndGlyphs" transform="rotate(-90 301.00 49.40)" fill="#1e1e1e" stroke="#1e1e1e" stroke-width="0.2">Immune Activation</text>
<path d="M396.3 333.7 H401.9 V383.2 H396.3" fill="none" stroke="#111" stroke-width="1.25"/>
<text x="415.70" y="353.00" font-size="7.6" text-anchor="middle" textLength="39.00" lengthAdjust="spacingAndGlyphs" transform="rotate(-90 415.70 353.00)" fill="#1e1e1e" stroke="#1e1e1e" stroke-width="0.2">CD4 Counts</text>
<text x="425.90" y="352.60" font-size="7.6" text-anchor="middle" textLength="49.50" lengthAdjust="spacingAndGlyphs" transform="rotate(-90 425.90 352.60)" fill="#1e1e1e" stroke="#1e1e1e" stroke-width="0.2">Cytokine+ CD4</text>
</svg>
</body></html>
